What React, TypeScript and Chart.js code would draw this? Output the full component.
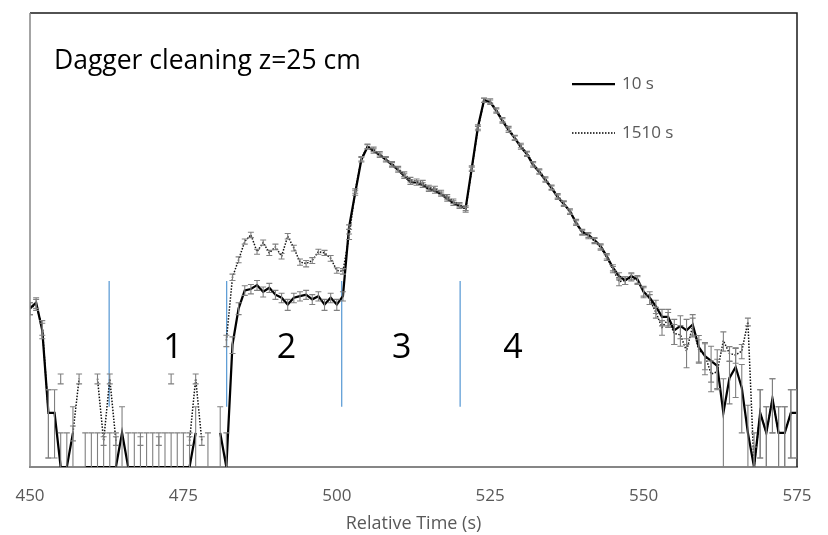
import React, { useEffect, useRef } from "react";
import { Chart, registerables } from "chart.js";

Chart.register(...registerables);

// ---- data (relative time 450..575 s, 1 s steps) ----
const START_TIME = 450;
const X_TICKS_STEP = 25;

const series10s: (number | null)[] = [
  25, 28, 16, 3, 3, 1, 1, 2, null, 1,
  1, 1, 1, 1, 1, 2, 1, 1, 1, 1,
  1, 1, 1, 1, 1, 1, 1, 2, null, 1,
  null, 2, 1, 12, 25, 36, 37, 40, 35, 38,
  33, 31, 27, 31, 32, 33, 30, 32, 27, 31,
  27, 32, 130, 260, 510, 660, 610, 560, 510, 460,
  414, 366, 324, 318, 305, 281, 270, 254, 230, 212,
  199, 191, 431, 990, 1710, 1640, 1370, 1120, 930, 790,
  660, 570, 458, 397, 338, 287, 239, 208, 180, 141,
  118, 111, 100, 88, 72, 57, 48, 44, 48, 45,
  35, 31, 26, 21, 21, 16, 17.5, 16, 18, 11.4,
  9.5, 8.6, 7.8, 3, 6.1, 7.6, 5, 2, 1, 3,
  2, 4, 2, 2, 3, 3,
];

const err10s: (number | null)[] = [
  3, 3, 2.5, 1.8, 1.8, 1, 1, 1.4, null, 1,
  1, 1, 1, 1, 1, 1.4, 1, 1, 1, 1,
  1, 1, 1, 1, 1, 1, 1, 1.4, null, 1,
  null, 1.4, 1, 2, 3, 3.5, 3.5, 4, 3.5, 3.5,
  3, 3, 3, 3, 3, 3, 3, 3, 3, 3,
  3, 3, 6, 12, 23, 30, 27, 25, 23, 21,
  19, 17, 15, 14, 14, 13, 12, 11, 10, 10,
  9, 9, 19, 44, 75, 72, 60, 50, 42, 36,
  30, 26, 21, 18, 15, 13, 11, 10, 8, 7,
  6, 5.5, 5, 4.5, 4, 3.5, 3.5, 3.5, 3.5, 3.5,
  4, 4, 3.5, 3.5, 3.5, 4, 4, 4, 4, 3,
  3, 3, 3, 3, 2.5, 3.5, 3, 1.5, 1, 1.8,
  1.4, 2, 1.4, 1.4, 1.8, 1.8,
];

const series1510s: (number | null)[] = [
  25, 27, 17, 3, null, 6, null, 2, 6, null,
  null, 6, 1.7, 6, 1.7, null, null, null, 1.7, null,
  null, 1.7, null, 6, null, null, 1.7, 6, 1.7, null,
  null, null, 13, 47, 67, 97, 111, 79, 95, 77,
  87, 72, 108, 85, 64, 62, 66, 79, 77, 69,
  54, 53, 107, 270, 520, 670, 630, 575, 520, 470,
  425, 380, 340, 330, 320, 290, 285, 262, 240, 220,
  205, 185, 420, 960, 1700, 1680, 1400, 1150, 960, 800,
  680, 580, 470, 405, 345, 292, 245, 212, 176, 145,
  116, 108, 98, 86, 70, 55, 43, 44, 47, 44,
  35, 30, 23, 17, 20, 15, 14.6, 10.5, 17.5, 10.7,
  9.7, 6.6, 6.9, 13, 10, 9.7, 10.5, 19, 1, 3,
  2, 4, 2, 2, 3, 3,
];

const err1510s: (number | null)[] = [
  3, 3, 2.5, 1.8, null, 0.6, null, 0.3, 0.6, null,
  null, 0.6, 0.15, 0.6, 0.15, null, null, null, 0.15, null,
  null, 0.15, null, 0.6, null, null, 0.15, 0.6, 0.15, null,
  null, null, 1.5, 3, 4, 5, 6, 4, 5, 4,
  5, 4, 6, 5, 4, 4, 4, 4, 4, 4,
  3, 3, 6, 12, 24, 30, 28, 26, 24, 22,
  20, 18, 16, 15, 15, 14, 13, 12, 11, 10,
  9, 9, 19, 43, 75, 74, 62, 52, 43, 36,
  31, 26, 21, 18, 16, 13, 11, 10, 8, 7,
  6, 5.5, 5, 4.5, 4, 3.5, 3.5, 3.5, 3.5, 3.5,
  3, 3, 2.5, 2.5, 3, 3, 3, 3, 3, 2.5,
  2.5, 2, 2, 2.5, 1.5, 1.5, 1.5, 1.5, 0.5, 1.8,
  1.4, 2, 1.4, 1.4, 1.8, 1.8,
];

const seriesLabels = ["10 s", "1510 s"];

// phase boundaries (blue markers) and phase labels
const phaseBoundaries = [462.9, 482.05, 500.8, 520.1];
const boundaryLow = 3.4;
const boundaryHigh = 43.5;
const phaseLabels = ["1", "2", "3", "4"];
const phaseLabelX = [473.3, 491.8, 510.6, 528.7];
const phaseLabelY = 11.0;

const chartTitle = "Dagger cleaning z=25 cm";
const xAxisTitle = "Relative Time (s)";

const FONT = "'Open Sans', 'DejaVu Sans', sans-serif";
const GRAY_TEXT = "#595959";
const ERR_COLOR = "#808080";

const toPoints = (vals: (number | null)[]) =>
  vals.map((v, i) => ({ x: START_TIME + i, y: v }));

const framePlugin = {
  id: "frame",
  beforeDatasetsDraw(chart: any) {
    const { ctx, chartArea: a } = chart;
    ctx.save();
    ctx.lineWidth = 1.5;
    ctx.strokeStyle = "#1a1a1a";
    ctx.beginPath();
    ctx.moveTo(a.left, a.top);
    ctx.lineTo(a.right, a.top);
    ctx.lineTo(a.right, a.bottom);
    ctx.stroke();
    ctx.strokeStyle = "#868686";
    ctx.beginPath();
    ctx.moveTo(a.left, a.top);
    ctx.lineTo(a.left, a.bottom);
    ctx.stroke();
    ctx.restore();
  },
};

const errorBarPlugin = {
  id: "errorBars",
  afterDatasetsDraw(chart: any) {
    const { ctx, chartArea: a, scales } = chart;
    const xs = scales.x;
    const ys = scales.y;
    ctx.save();
    ctx.beginPath();
    ctx.rect(a.left, a.top, a.right - a.left, a.bottom - a.top);
    ctx.clip();
    ctx.strokeStyle = ERR_COLOR;
    ctx.lineWidth = 1.1;
    chart.data.datasets.forEach((ds: any) => {
      const errs = ds.errors;
      if (!errs) return;
      ds.data.forEach((p: any, i: number) => {
        const e = errs[i];
        if (p.y == null || e == null) return;
        const x = xs.getPixelForValue(p.x);
        const hi = p.y + e;
        const lo = p.y - e;
        const yHi = ys.getPixelForValue(hi);
        const yLo = lo > 0 ? ys.getPixelForValue(lo) : a.bottom + 5;
        ctx.beginPath();
        ctx.moveTo(x, yHi);
        ctx.lineTo(x, yLo);
        ctx.moveTo(x - 3, yHi);
        ctx.lineTo(x + 3, yHi);
        if (lo > 0) {
          ctx.moveTo(x - 3, yLo);
          ctx.lineTo(x + 3, yLo);
        }
        ctx.stroke();
      });
    });
    ctx.restore();
  },
};

const annotationPlugin = {
  id: "annotations",
  afterDraw(chart: any) {
    const { ctx, chartArea: a, scales } = chart;
    ctx.save();
    // title inside plot
    ctx.fillStyle = "#000";
    ctx.font = `26.5px ${FONT}`;
    ctx.textAlign = "left";
    ctx.textBaseline = "alphabetic";
    ctx.fillText(chartTitle, a.left + 24, a.top + 56);

    // phase labels
    ctx.font = `34px ${FONT}`;
    ctx.textAlign = "center";
    ctx.textBaseline = "middle";
    const py = scales.y.getPixelForValue(phaseLabelY);
    phaseLabels.forEach((t, i) => {
      ctx.fillText(t, scales.x.getPixelForValue(phaseLabelX[i]), py);
    });

    // legend
    const ds = chart.data.datasets;
    const lx0 = a.left + 542;
    const lx1 = a.left + 585;
    const rows = [a.top + 71, a.top + 120];
    [0, 1].forEach((k) => {
      const d = ds[k];
      ctx.strokeStyle = "#000";
      ctx.lineWidth = d.borderWidth;
      ctx.setLineDash(d.borderDash || []);
      ctx.beginPath();
      ctx.moveTo(lx0, rows[k]);
      ctx.lineTo(lx1, rows[k]);
      ctx.stroke();
      ctx.setLineDash([]);
      ctx.fillStyle = GRAY_TEXT;
      ctx.font = `17px ${FONT}`;
      ctx.textAlign = "left";
      ctx.textBaseline = "middle";
      ctx.fillText(d.label, lx1 + 7, rows[k]);
    });
    ctx.restore();
  },
};

export default function App() {
  const canvasRef = useRef<HTMLCanvasElement | null>(null);

  useEffect(() => {
    if (!canvasRef.current) return;
    const boundarySets = phaseBoundaries.map((b) => ({
      type: "line" as const,
      label: "",
      data: [
        { x: b, y: boundaryLow },
        { x: b, y: boundaryHigh },
      ],
      borderColor: "#5B9BD5",
      borderWidth: 1.25,
      pointRadius: 0,
    }));
    const chart = new Chart(canvasRef.current, {
      type: "line",
      data: {
        datasets: [
          {
            label: seriesLabels[0],
            data: toPoints(series10s),
            errors: err10s,
            borderColor: "#000",
            borderWidth: 2.25,
            pointRadius: 0,
            tension: 0,
            spanGaps: false,
          } as any,
          {
            label: seriesLabels[1],
            data: toPoints(series1510s),
            errors: err1510s,
            borderColor: "#111",
            borderWidth: 1.5,
            borderDash: [1.5, 1.5],
            pointRadius: 0,
            tension: 0,
            spanGaps: false,
          } as any,
          ...boundarySets,
        ],
      },
      options: {
        animation: false,
        responsive: true,
        maintainAspectRatio: false,
        events: [],
        layout: { padding: { left: 30, right: 31, top: 13, bottom: 0 } },
        plugins: {
          legend: { display: false },
          tooltip: { enabled: false },
        },
        scales: {
          x: {
            type: "linear",
            min: 450,
            max: 575,
            z: 1,
            afterFit: (s: any) => {
              s.height = 68;
              s.paddingLeft = 0;
              s.paddingRight = 0;
            },
            ticks: {
              stepSize: X_TICKS_STEP,
              color: GRAY_TEXT,
              font: { family: FONT, size: 17 },
              padding: 19,
              maxRotation: 0,
            },
            grid: { display: false, drawTicks: false },
            border: { display: true, color: "#868686", width: 2 },
            title: {
              display: true,
              text: xAxisTitle,
              color: GRAY_TEXT,
              font: { family: FONT, size: 18 },
              padding: { top: 0, bottom: 0 },
            },
          },
          y: {
            type: "logarithmic",
            min: 1,
            max: 10000,
            display: false,
          },
        },
      },
      plugins: [framePlugin, errorBarPlugin, annotationPlugin],
    });
    return () => chart.destroy();
  }, []);

  return (
    <div style={{ position: "fixed", left: 0, top: 0, width: 828, height: 535, background: "#fff" }}>
      <canvas ref={canvasRef} />
    </div>
  );
}
